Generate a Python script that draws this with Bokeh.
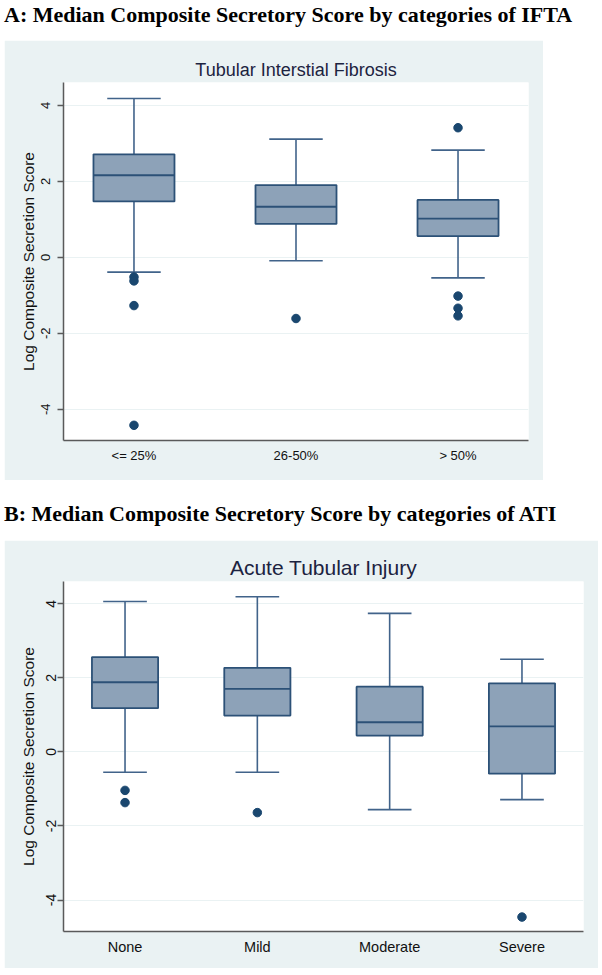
from bokeh.plotting import figure
from bokeh.layouts import column
from bokeh.models import FixedTicker, ColumnDataSource, Range1d, Div
from bokeh.embed import file_html
from bokeh.resources import INLINE

# ---------------- data ----------------
ifta_title = "Tubular Interstial Fibrosis"
ifta_categories = ["<= 25%", "26-50%", "> 50%"]
ifta_lower = [-0.39, -0.09, -0.54]
ifta_q1 = [1.47, 0.88, 0.56]
ifta_median = [2.16, 1.33, 1.02]
ifta_q3 = [2.71, 1.90, 1.51]
ifta_upper = [4.18, 3.11, 2.82]
ifta_outlier_group = ["<= 25%", "<= 25%", "<= 25%", "<= 25%", "26-50%",
                      "> 50%", "> 50%", "> 50%", "> 50%"]
ifta_outlier_value = [-0.52, -0.62, -1.27, -4.42, -1.61, 3.41, -1.02, -1.34, -1.54]

ati_title = "Acute Tubular Injury"
ati_categories = ["None", "Mild", "Moderate", "Severe"]
ati_lower = [-0.55, -0.55, -1.56, -1.29]
ati_q1 = [1.18, 0.98, 0.44, -0.59]
ati_median = [1.88, 1.70, 0.80, 0.69]
ati_q3 = [2.56, 2.27, 1.76, 1.85]
ati_upper = [4.06, 4.19, 3.74, 2.50]
ati_outlier_group = ["None", "None", "Mild", "Severe"]
ati_outlier_value = [-1.04, -1.37, -1.64, -4.46]

y_ticks = [-4, -2, 0, 2, 4]
y_tick_labels = ["-4", "-2", "0", "2", "4"]
y_axis_title = "Log Composite Secretion Score"

caption_a = "A: Median Composite Secretory Score by categories of IFTA"
caption_b = "B: Median Composite Secretory Score by categories of ATI"

# ---------------- style ----------------
BG = "#eaf2f3"
BOX_FILL = "#8da2b8"
BOX_LINE = "#2c5177"
WHISKER = "#41638a"
DOT = "#1a476f"
AXIS = "#5a5a5a"
TITLE_COL = "#1c2340"


def caption_div(text, height, pad_top):
    html = ('<div style="font-family:\'Liberation Serif\',\'Times New Roman\',serif;'
            'font-weight:bold;font-size:22px;line-height:30px;color:#000;'
            'white-space:nowrap;margin:0;padding:%dpx 0 0 4px;">%s</div>') % (pad_top, text)
    return Div(text=html, width=600, height=height, margin=(0, 0, 0, 0))


def panel(title, cats, lower, q1, med, q3, upper, og, ov, width, height, borders,
          xpad, yr, sizes):
    n = len(cats)
    xs = list(range(1, n + 1))
    pos = {c: i + 1 for i, c in enumerate(cats)}
    p = figure(width=width, height=height, toolbar_location=None, output_backend="svg",
               x_range=Range1d(1 - xpad, n + xpad), y_range=Range1d(*yr))
    p.margin = (0, 0, 0, 4)
    p.min_border_left, p.min_border_right, p.min_border_top, p.min_border_bottom = borders
    p.border_fill_color = BG
    p.background_fill_color = "white"
    p.outline_line_color = None

    p.title.text = title
    p.title.align = "center"
    p.title.text_font = "Liberation Sans"
    p.title.text_font_style = "normal"
    p.title.text_font_size = sizes["title"]
    p.title.text_color = TITLE_COL
    p.title.standoff = sizes["title_standoff"]

    src = ColumnDataSource(dict(
        x=xs, lower=lower, q1=q1, med=med, q3=q3, upper=upper,
        xl=[x - 0.25 for x in xs], xr=[x + 0.25 for x in xs],
        cl=[x - 0.165 for x in xs], cr=[x + 0.165 for x in xs]))

    # whiskers
    p.segment(x0="x", y0="q3", x1="x", y1="upper", source=src, line_color=WHISKER, line_width=1.6)
    p.segment(x0="x", y0="q1", x1="x", y1="lower", source=src, line_color=WHISKER, line_width=1.6)
    p.segment(x0="cl", y0="upper", x1="cr", y1="upper", source=src, line_color=WHISKER, line_width=1.6)
    p.segment(x0="cl", y0="lower", x1="cr", y1="lower", source=src, line_color=WHISKER, line_width=1.6)
    # boxes
    p.vbar(x="x", width=0.5, bottom="q1", top="q3", source=src, fill_color=BOX_FILL,
           line_color=BOX_LINE, line_width=1.8)
    p.segment(x0="xl", y0="med", x1="xr", y1="med", source=src, line_color=BOX_LINE, line_width=1.8)
    # outliers
    p.scatter(x=[pos[g] for g in og], y=ov, size=8.5, fill_color=DOT, line_color=DOT)

    # axes
    p.xgrid.visible = False
    p.ygrid.ticker = FixedTicker(ticks=y_ticks)
    p.ygrid.grid_line_color = BG
    p.ygrid.grid_line_width = 1.2

    xa = p.xaxis[0]
    xa.ticker = FixedTicker(ticks=xs)
    xa.major_label_overrides = {x: c for x, c in zip(xs, cats)}
    xa.major_tick_out = 0
    xa.major_tick_in = 0
    xa.minor_tick_out = 0
    xa.minor_tick_in = 0
    xa.axis_line_color = AXIS
    xa.axis_line_width = 1.5
    xa.major_label_text_font = "Liberation Sans"
    xa.major_label_text_font_size = sizes["xlab"]
    xa.major_label_text_color = "#111111"
    xa.major_label_standoff = sizes["xstand"]

    ya = p.yaxis[0]
    ya.ticker = FixedTicker(ticks=y_ticks)
    ya.major_label_overrides = {t: l for t, l in zip(y_ticks, y_tick_labels)}
    ya.major_label_orientation = "vertical"
    ya.major_tick_out = 6
    ya.major_tick_in = 0
    ya.minor_tick_out = 0
    ya.minor_tick_in = 0
    ya.major_tick_line_color = AXIS
    ya.major_tick_line_width = 1.3
    ya.axis_line_color = AXIS
    ya.axis_line_width = 1.5
    ya.major_label_text_font = "Liberation Sans"
    ya.major_label_text_font_size = sizes["ylab"]
    ya.major_label_text_color = "#111111"
    ya.major_label_standoff = sizes["ystand"]
    ya.axis_label = y_axis_title
    ya.axis_label_text_font = "Liberation Sans"
    ya.axis_label_text_font_style = "normal"
    ya.axis_label_text_font_size = sizes["alab"]
    ya.axis_label_text_color = "#111111"
    ya.axis_label_standoff = sizes["astand"]
    return p


cap_a = caption_div(caption_a, 40, 0)
pa = panel(ifta_title, ifta_categories, ifta_lower, ifta_q1, ifta_median, ifta_q3, ifta_upper,
           ifta_outlier_group, ifta_outlier_value,
           width=539, height=440, borders=(54, 14, 42, 40), xpad=0.435, yr=(-4.82, 4.60),
           sizes=dict(title="18px", title_standoff=6, xlab="13px", xstand=7, ylab="13px",
                      ystand=7, alab="15.5px", astand=2))
cap_b = caption_div(caption_b, 60, 19)
pb = panel(ati_title, ati_categories, ati_lower, ati_q1, ati_median, ati_q3, ati_upper,
           ati_outlier_group, ati_outlier_value,
           width=594, height=428, borders=(59, 15, 41, 37), xpad=0.465, yr=(-4.85, 4.60),
           sizes=dict(title="21px", title_standoff=6, xlab="14.5px", xstand=7, ylab="14px",
                      ystand=1, alab="15.5px", astand=7))

layout = column(cap_a, pa, cap_b, pb, spacing=0)
open("out.html", "w").write(file_html(layout, INLINE))
